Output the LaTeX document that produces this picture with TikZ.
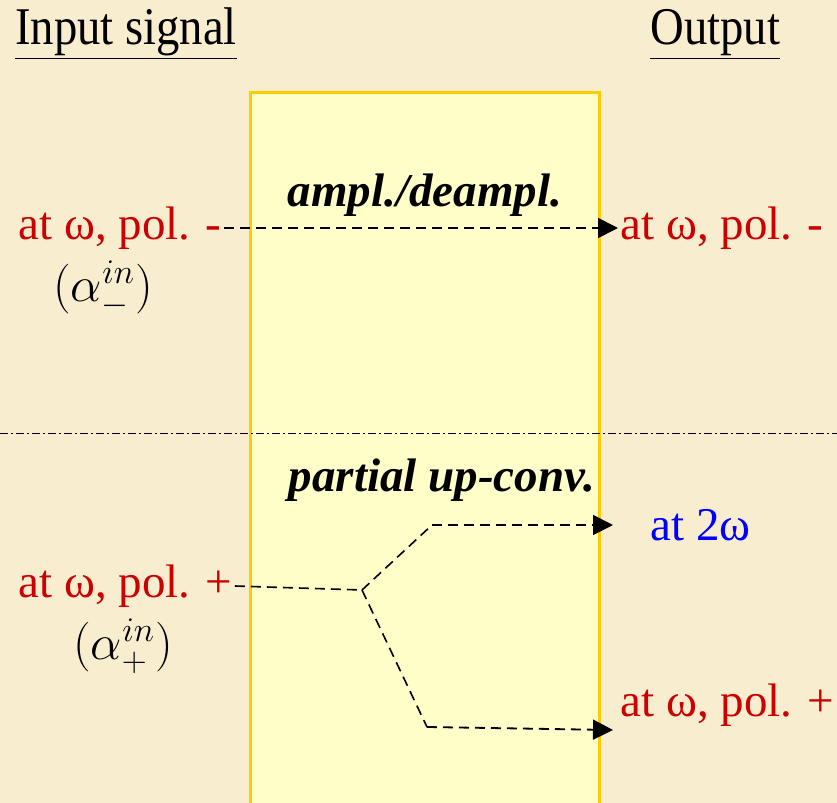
\documentclass[tikz,border=0pt]{standalone}
\usepackage{fontspec}
\setmainfont{Liberation Serif}
\usetikzlibrary{arrows.meta}
\definecolor{paper}{RGB}{249,237,208}
\definecolor{boxfill}{RGB}{255,253,200}
\definecolor{boxline}{RGB}{255,204,0}
\definecolor{polred}{RGB}{204,0,0}
\definecolor{harmblue}{RGB}{0,0,255}
\begin{document}
\begin{tikzpicture}[x=0.5pt, y=-0.5pt,
  every node/.style={font=\fontsize{23.5}{28}\selectfont, inner sep=1pt},
  hdr/.style={anchor=base west, font=\fontsize{26.5}{30}\selectfont},
  lbl/.style={anchor=west, text=polred},
  math/.style={anchor=center, inner sep=0pt},
  title/.style={font=\fontsize{23.5}{28}\selectfont\bfseries\itshape, anchor=center},
  sig/.style={dashed, dash pattern=on 5pt off 3pt, line width=0.9pt,
    -{Triangle[length=10pt, width=10pt]}},
  feed/.style={dashed, dash pattern=on 5pt off 3pt, line width=0.8pt},
]

% Background and converter box
\useasboundingbox (0,0) rectangle (837,803);
\fill[paper] (0,0) rectangle (837,803);
\filldraw[fill=boxfill, draw=boxline, line width=1.5pt] (250,92) rectangle (599,830);

% Column headers
\node[hdr] (inhdr) at (13,44) {\scalebox{0.88}[1]{\underline{Input signal}}};
\node[hdr] (outhdr) at (648,44) {\scalebox{0.88}[1]{\underline{Output}}};

% Upper half: polarisation -
\node[title] (ampl) at (425,195) {ampl./deampl.};
\node[lbl] (inminus) at (16,228) {at ω, pol. -};
\node[math] (alminus) at (103,289) {$(\alpha_-^{in})$};
\node[lbl] (outminus) at (618,228) {at ω, pol. -};
\draw[sig] (inminus.east) -- (outminus.west);

% Separator
\draw[line width=0.5pt, dash pattern=on 4pt off 1.5pt on 1pt off 1.5pt] (0,433) -- (837,433);

% Lower half: polarisation +
\node[title] (upconv) at (442,480) {partial up-conv.};
\node[lbl] (inplus) at (16,586) {at ω, pol. +};
\node[math] (alplus) at (123,646) {$(\alpha_+^{in})$};
\node[anchor=west, text=harmblue] (outtwo) at (648,525) {at 2ω};
\node[lbl] (outplus) at (618,705) {at ω, pol. +};

\coordinate (branch) at (362,590);
\coordinate (up) at (432,525);
\coordinate (down) at (427,727);
\coordinate (tiptwo) at (613,525);
\coordinate (tipplus) at (613,730);

\draw[feed] (inplus.east) -- (branch);
\draw[feed] (branch) -- (up);
\draw[feed] (branch) -- (down);
\draw[sig] (up) -- (tiptwo);
\draw[sig] (down) -- (tipplus);

\end{tikzpicture}
\end{document}
